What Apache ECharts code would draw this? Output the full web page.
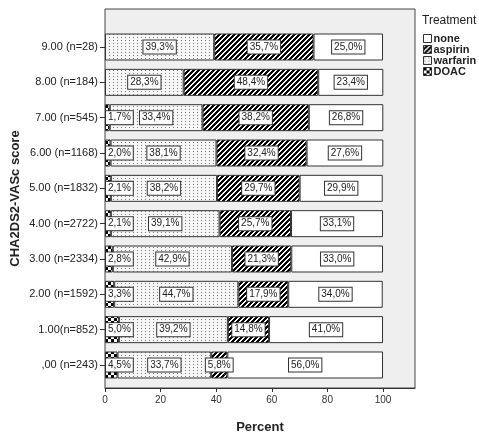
<!DOCTYPE html>
<html><head><meta charset="utf-8">
<script src="https://cdn.jsdelivr.net/npm/echarts@6/dist/echarts.min.js"></script>
<style>html,body{margin:0;padding:0;background:#fff}#c{width:479px;height:439px}</style>
</head><body><div id="c"></div>
<script>
var categories = ['9.00 (n=28)','8.00 (n=184)','7.00 (n=545)','6.00 (n=1168)','5.00 (n=1832)','4.00 (n=2722)','3.00 (n=2334)','2.00 (n=1592)','1.00(n=852)',',00 (n=243)'];
var doac     = [0, 0, 1.7, 2.0, 2.1, 2.1, 2.8, 3.3, 5.0, 4.5];
var warfarin = [39.3, 28.3, 33.4, 38.1, 38.2, 39.1, 42.9, 44.7, 39.2, 33.7];
var aspirin  = [35.7, 48.4, 38.2, 32.4, 29.7, 25.7, 21.3, 17.9, 14.8, 5.8];
var none     = [25.0, 23.4, 26.8, 27.6, 29.9, 33.1, 33.0, 34.0, 41.0, 56.0];
var xTicks = [0, 20, 40, 60, 80, 100];
var legendOrder = ['none', 'aspirin', 'warfarin', 'DOAC'];

function makePattern(w, h, fn) {
  var c = document.createElement('canvas');
  c.width = w; c.height = h;
  var ctx = c.getContext('2d');
  var img = ctx.createImageData(w, h);
  for (var y = 0; y < h; y++) for (var x = 0; x < w; x++) {
    var v = fn(x, y);
    var i = (y * w + x) * 4;
    img.data[i] = v; img.data[i+1] = v; img.data[i+2] = v; img.data[i+3] = 255;
  }
  ctx.putImageData(img, 0, 0);
  return { image: c, repeat: 'repeat' };
}
var hatch = makePattern(5, 5, function (x, y) { return ((x + y) % 5) < 2 ? 255 : 0; });
var dots = makePattern(4, 3, function (x, y) { return (x === 1 && y === 1) ? 120 : 246; });
var checker = makePattern(6, 6, function (x, y) { return ((Math.floor(x / 3) + Math.floor(y / 3)) % 2) ? 255 : 0; });

var FONT = '"Liberation Sans", Arial, sans-serif';
function fmt(p) { return p.value > 0 ? p.value.toFixed(1).replace('.', ',') + '%' : ''; }
var labelBox = {
  show: true, formatter: fmt, fontSize: 10, fontFamily: FONT, color: '#222',
  backgroundColor: '#fff', borderColor: '#333', borderWidth: 1, padding: [1, 2], lineHeight: 11
};
function series(name, data, color, pos) {
  return {
    name: name, type: 'bar', stack: 'all', xAxisIndex: 1, yAxisIndex: 1,
    barWidth: 27, data: data.map(function (v) { return v > 0 ? v : null; }),
    itemStyle: { color: color, borderColor: '#333', borderWidth: 1 },
    label: Object.assign({}, labelBox, pos === 'left' ? { position: 'insideLeft', distance: 1 } : { position: 'inside' }),
    emphasis: { disabled: true }, animation: false
  };
}

var chart = echarts.init(document.getElementById('c'), null, { renderer: 'canvas' });
chart.setOption({
  animation: false,
  textStyle: { fontFamily: FONT },
  title: { text: 'Treatment', left: 422, top: 15, padding: 0, textStyle: { fontSize: 12, fontWeight: 'normal', color: '#222', fontFamily: FONT } },
  legend: {
    data: legendOrder, orient: 'vertical', left: 423, top: 33, padding: 0, itemWidth: 8, itemHeight: 8, itemGap: 0,
    icon: 'rect', itemStyle: { borderColor: '#333', borderWidth: 1 },
    textStyle: { fontSize: 11, lineHeight: 10, fontWeight: 'bold', color: '#222', fontFamily: FONT, padding: [0, 0, 0, -3] }
  },
  grid: [
    { left: 105, top: 9, width: 310, height: 391, show: true, backgroundColor: '#efefef', borderColor: '#444', borderWidth: 1 },
    { left: 105, top: 29.35, width: 310, height: 353.3 }
  ],
  xAxis: [
    { type: 'value', gridIndex: 0, min: 0, max: 111.5, interval: 20,
      name: 'Percent', nameLocation: 'middle', nameGap: 33,
      nameTextStyle: { fontSize: 13, fontWeight: 'bold', color: '#222', fontFamily: FONT },
      axisLine: { show: true, lineStyle: { color: '#333' } },
      axisTick: { show: true, length: 4, customValues: xTicks, lineStyle: { color: '#333' } },
      axisLabel: { customValues: xTicks, fontSize: 10, color: '#333', margin: 7, fontFamily: FONT },
      splitLine: { show: false } },
    { type: 'value', gridIndex: 1, min: 0, max: 111.5, show: false, splitLine: { show: false } }
  ],
  yAxis: [
    { type: 'value', gridIndex: 0, min: 0, max: 1,
      name: 'CHA2DS2-VASc score', nameLocation: 'middle', nameGap: 83, nameRotate: 90,
      nameTextStyle: { fontSize: 13, fontWeight: 'bold', color: '#222', fontFamily: FONT },
      axisLine: { show: false }, axisTick: { show: false }, axisLabel: { show: false }, splitLine: { show: false } },
    { type: 'category', gridIndex: 1, data: categories, inverse: true,
      axisLine: { show: false },
      axisTick: { show: true, alignWithLabel: true, length: 5, lineStyle: { color: '#333' } },
      axisLabel: { fontSize: 11, color: '#222', margin: 7, fontFamily: FONT } }
  ],
  series: [
    series('DOAC', doac, checker, 'left'),
    series('warfarin', warfarin, dots),
    series('aspirin', aspirin, hatch),
    series('none', none, '#ffffff')
  ]
});
</script></body></html>
